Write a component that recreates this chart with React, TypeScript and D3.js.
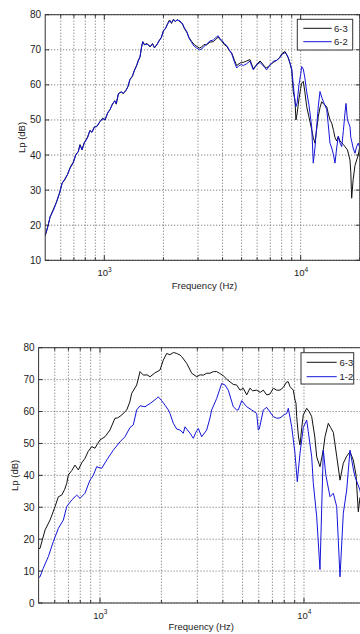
import * as d3 from 'd3';
import React from 'react';

type Pt = [number, number]; // [frequency Hz, Lp dB]

// upper panel: 6-3 vs 6-2
const top63: Pt[] = [
  [500, 17], [515, 19.5], [530, 22.4], [550, 24.5], [570, 26.5], [590, 29], [610, 32], [630, 33],
  [650, 34.5], [670, 36.5], [695, 38], [715, 40], [737, 41], [752, 43], [770, 41.5], [790, 43.5],
  [820, 45], [845, 47], [865, 46.5], [890, 48], [915, 48.2], [950, 49.5], [980, 50.5], [1010, 50],
  [1040, 52], [1070, 53], [1100, 54.5], [1130, 55.5], [1150, 54.5], [1180, 57.5], [1220, 58],
  [1250, 57.5], [1290, 58.5], [1320, 59.5], [1350, 61.5], [1390, 62.5], [1420, 64], [1460, 65.5],
  [1490, 67], [1520, 68], [1550, 71], [1570, 72.3], [1600, 71.4], [1650, 71.8], [1710, 70.8],
  [1760, 71.8], [1800, 70.5], [1850, 71.5], [1900, 72.5], [1950, 73.5], [2000, 75.5], [2050, 76],
  [2100, 77.5], [2150, 78.5], [2200, 77.5], [2250, 78.7], [2300, 78], [2350, 78.6], [2430, 78],
  [2500, 77.5], [2560, 76], [2630, 75], [2700, 73.5], [2790, 72.3], [2870, 71.5], [2950, 71],
  [3050, 70.5], [3130, 70.8], [3220, 71.5], [3320, 71.4], [3450, 72.2], [3590, 72.3], [3700, 73],
  [3800, 73.6], [3900, 72.8], [3960, 72.5], [4080, 71.5], [4200, 71], [4330, 69.8], [4460, 69],
  [4600, 67], [4720, 65.5], [4850, 66], [5000, 66.5], [5100, 66.4], [5300, 66.8], [5520, 67.2],
  [5620, 66], [5740, 64.5], [5900, 65.5], [6050, 66.2], [6210, 66.8], [6400, 66], [6550, 65.2],
  [6710, 64.8], [6900, 65.5], [7100, 66], [7300, 66.5], [7550, 67], [7800, 67.8], [8050, 69],
  [8320, 69.5], [8500, 68.5], [8650, 67.6], [8830, 66], [9000, 64.2], [9170, 58], [9350, 55.7],
  [9460, 50], [9600, 52], [9800, 56], [10000, 59], [10120, 60.5], [10310, 61], [10500, 58],
  [10730, 53.8], [11000, 51], [11150, 49.5], [11380, 47.2], [11590, 45], [11820, 43.4], [12100, 48],
  [12300, 51], [12540, 53.5], [12790, 55.2], [13100, 54.5], [13570, 53.8], [13800, 52], [14100, 50],
  [14390, 49.1], [14700, 47], [14950, 45], [15250, 44], [15540, 45.3], [15850, 44], [16180, 43.5],
  [16500, 43], [16810, 42.4], [17010, 42], [17300, 41.5], [17820, 38.6], [18000, 35], [18180, 27.7],
  [18500, 33], [18900, 37], [19280, 38.6], [19650, 40], [20000, 42.4],
];

const top62: Pt[] = [
  [500, 17], [515, 19.5], [530, 22.4], [550, 24.2], [570, 26.5], [590, 29], [610, 32], [630, 33.2],
  [650, 34.5], [670, 36.3], [695, 37.8], [715, 40], [737, 41], [752, 42.8], [770, 41.5], [790, 43.4],
  [820, 44.8], [845, 47], [865, 46.5], [890, 48], [915, 48.1], [950, 49.5], [980, 50.3], [1010, 50.2],
  [1040, 52], [1070, 53], [1100, 54.5], [1130, 55.4], [1150, 54.7], [1180, 57.5], [1220, 58],
  [1250, 57.6], [1290, 58.4], [1320, 59.6], [1350, 61.5], [1390, 62.4], [1420, 64], [1460, 65.5],
  [1490, 66.8], [1520, 68], [1550, 71], [1570, 72.3], [1600, 71.5], [1650, 71.6], [1710, 71],
  [1760, 71.6], [1800, 70.7], [1850, 71.3], [1900, 72.6], [1950, 73.4], [2000, 75.3], [2050, 76.2],
  [2100, 77.3], [2150, 78.2], [2200, 77.8], [2250, 78.5], [2300, 78.1], [2350, 78.5], [2430, 78.2],
  [2500, 77.3], [2560, 76.2], [2630, 75.2], [2700, 73.3], [2790, 72], [2870, 71], [2950, 70.5],
  [3050, 70], [3130, 70.2], [3220, 71], [3320, 71.6], [3450, 72.5], [3590, 72.8], [3700, 73.5],
  [3800, 74], [3900, 73], [3960, 72.8], [4080, 71.8], [4200, 71.2], [4330, 70], [4460, 68.8],
  [4600, 66.5], [4720, 64.8], [4850, 65.5], [5000, 65.8], [5100, 65.5], [5300, 66], [5520, 66.8],
  [5620, 65.5], [5740, 64.3], [5900, 65.3], [6050, 66], [6210, 66.4], [6400, 65.6], [6550, 65],
  [6710, 64.3], [6900, 65.2], [7100, 66.2], [7300, 66.8], [7550, 67], [7800, 67.6], [8050, 68.7],
  [8320, 69.2], [8500, 68.6], [8650, 67.8], [8830, 66.2], [9000, 64.5], [9170, 60], [9350, 55.2],
  [9460, 53.8], [9600, 55], [9800, 60], [10000, 63], [10120, 65.2], [10310, 64.5], [10500, 62],
  [10730, 58], [11000, 54.5], [11150, 52], [11380, 48], [11590, 37.7], [11820, 42], [12100, 49],
  [12300, 54], [12540, 58.1], [12790, 56.5], [13100, 55], [13570, 53], [13800, 49], [14100, 43.4],
  [14390, 42], [14700, 40], [14950, 37.7], [15250, 42], [15540, 45.3], [15850, 43.5], [16180, 42.4],
  [16500, 47], [16810, 52], [17010, 54.7], [17300, 50], [17820, 48.1], [18000, 45], [18180, 44],
  [18500, 42], [18900, 40.5], [19280, 42.5], [19650, 43.4], [20000, 42],
];

// lower panel: 6-3 vs 1-2
const bot63: Pt[] = [
  [500, 17], [508, 17.1], [538, 22.9], [569, 26], [602, 30.2], [625, 33.3], [649, 33.8], [670, 35.5],
  [687, 37.5], [699, 40.1], [727, 41.5], [754, 43.2], [783, 41.7], [815, 44], [844, 45.3], [875, 47.5],
  [911, 49], [945, 48.5], [975, 50], [1000, 51.1], [1058, 52.1], [1119, 54.2], [1184, 57.9],
  [1220, 58], [1278, 58.9], [1352, 60.5], [1400, 63], [1430, 65.7], [1513, 68.3], [1571, 72.5],
  [1631, 71.4], [1700, 71.5], [1759, 70.9], [1850, 72], [1968, 73], [2043, 76.1], [2123, 78.2],
  [2200, 77.8], [2290, 78.5], [2377, 78.2], [2467, 77.7], [2515, 77.2], [2661, 75.1], [2816, 72],
  [2979, 70.9], [3100, 71.5], [3209, 71.4], [3334, 72], [3461, 72], [3593, 72.5], [3733, 72.5],
  [3850, 72], [4022, 71.2], [4200, 70], [4338, 69.3], [4500, 68.5], [4678, 68.3], [4857, 66.7],
  [5040, 67.3], [5237, 65.2], [5436, 67.3], [5600, 66.5], [5863, 66.7], [6100, 66], [6317, 66.7],
  [6565, 65.2], [6813, 65.5], [7071, 67.3], [7348, 66.7], [7627, 66.7], [7900, 67.5], [8228, 69.3],
  [8378, 69.3], [8540, 67.8], [8863, 66.7], [9034, 63.6], [9137, 62.6], [9209, 58.4], [9400, 52],
  [9559, 49.5], [9750, 55], [9922, 59], [10309, 61], [10600, 60], [10908, 58.4], [11300, 52],
  [11543, 45.8], [11980, 42.7], [12435, 48], [12676, 52.1], [13157, 56.3], [13500, 55], [13922, 53.5],
  [14466, 46], [15016, 38.5], [15584, 43.8], [16194, 46], [16810, 47.4], [17447, 44.8], [18000, 40],
  [18459, 28.6], [18814, 33], [19400, 30], [20000, 32],
];

const bot12: Pt[] = [
  [500, 8], [508, 8.2], [527, 10.9], [558, 14.5], [590, 19.2], [625, 23.4], [661, 26], [687, 30.2],
  [727, 32.3], [769, 33.8], [798, 32.8], [844, 34.4], [893, 38.5], [927, 40], [963, 42.7], [1019, 42.2],
  [1079, 44.8], [1162, 47.9], [1253, 50.5], [1326, 52.1], [1403, 55], [1456, 55.8], [1513, 60.5],
  [1571, 61.8], [1662, 61.5], [1759, 62.5], [1896, 64.1], [1931, 64.6], [2000, 63.5], [2083, 62],
  [2162, 60.5], [2203, 59.4], [2288, 56.3], [2377, 54.5], [2467, 54.2], [2561, 53.2], [2610, 55.2],
  [2762, 53.2], [2867, 51.6], [2950, 53.5], [3033, 54.7], [3151, 52.1], [3334, 54.2], [3461, 58],
  [3528, 60.5], [3733, 64.1], [3950, 68.8], [4100, 68.3], [4255, 66.7], [4502, 61.5], [4678, 60.5],
  [4764, 60.5], [4950, 63.4], [5237, 61.5], [5541, 60.5], [5863, 59.4], [5970, 54.2], [6038, 54.5],
  [6317, 60.5], [6565, 61.3], [7071, 58.4], [7348, 57.9], [7627, 58], [8000, 59], [8228, 59.4],
  [8378, 61], [8705, 55.2], [9034, 46.9], [9273, 38], [9559, 46.9], [9922, 55], [10309, 57.3],
  [10497, 53.7], [10908, 45.8], [11109, 37.5], [11543, 27], [11980, 10.5], [12435, 47.9], [12800, 40],
  [13413, 33.3], [13922, 34.4], [14466, 30.2], [15016, 8.2], [15584, 28.1], [16194, 35.4],
  [16810, 47.9], [17447, 42], [17783, 39.6], [18814, 35.4], [19400, 30], [20000, 28],
];

const xMajor = [1000, 10000];
const xMajorExp = ['3', '4'];
const xMinor = [600, 700, 800, 900, 2000, 3000, 4000, 5000, 6000, 7000, 8000, 9000, 20000];
const yTicksTop = [10, 20, 30, 40, 50, 60, 70, 80];
const yTicksBot = [0, 10, 20, 30, 40, 50, 60, 70, 80];

const font = "'Liberation Sans', Arial, sans-serif";
const gridColor = '#666';
const axisColor = '#333';
const blue = '#1515d8';

interface Series {
  name: string;
  data: Pt[];
  color: string;
}

interface PanelProps {
  id: string;
  left: number;
  right: number;
  top: number;
  bottom: number;
  yDomain: [number, number];
  yTicks: number[];
  series: Series[];
  ylabelX: number;
  tickLabelY: number;
  xlabelY: number;
  legend: { x: number; y: number; w: number; h: number; lx0: number; lx1: number; tx: number; rows: number[] };
}

const Panel: React.FC<PanelProps> = (p) => {
  const x = d3.scaleLog().domain([500, 20000]).range([p.left, p.right]);
  const y = d3.scaleLinear().domain(p.yDomain).range([p.bottom, p.top]);
  const line = d3
    .line<Pt>()
    .x((d) => x(d[0]))
    .y((d) => y(d[1]));
  const clipId = `clip-${p.id}`;
  return (
    <g>
      <defs>
        <clipPath id={clipId}>
          <rect x={p.left} y={p.top} width={p.right - p.left} height={p.bottom - p.top} />
        </clipPath>
      </defs>
      {/* grid */}
      {p.yTicks.map((t) => (
        <line key={'gy' + t} x1={p.left} x2={p.right} y1={y(t)} y2={y(t)}
          stroke={gridColor} strokeWidth={1} strokeDasharray="1 2" />
      ))}
      {[...xMajor, ...xMinor].map((t) => (
        <line key={'gx' + t} x1={x(t)} x2={x(t)} y1={p.top} y2={p.bottom}
          stroke={gridColor} strokeWidth={1} strokeDasharray="1 2" />
      ))}
      {/* curves */}
      <g clipPath={`url(#${clipId})`}>
        {p.series.map((s) => (
          <path key={s.name} d={line(s.data) || ''} fill="none" stroke={s.color} strokeWidth={1} />
        ))}
      </g>
      {/* box */}
      <rect x={p.left} y={p.top} width={p.right - p.left} height={p.bottom - p.top}
        fill="none" stroke={axisColor} strokeWidth={1} />
      {/* ticks (inward) */}
      {p.yTicks.map((t) => (
        <g key={'ty' + t}>
          <line x1={p.left} x2={p.left + 4} y1={y(t)} y2={y(t)} stroke={axisColor} />
          <line x1={p.right} x2={p.right - 4} y1={y(t)} y2={y(t)} stroke={axisColor} />
          <text x={p.left - 4} y={y(t)} dy="0.35em" textAnchor="end" fontSize={10}
            fontFamily={font} fill="#222">{t}</text>
        </g>
      ))}
      {xMajor.map((t) => (
        <g key={'tx' + t}>
          <line x1={x(t)} x2={x(t)} y1={p.bottom} y2={p.bottom - 5} stroke={axisColor} />
          <line x1={x(t)} x2={x(t)} y1={p.top} y2={p.top + 5} stroke={axisColor} />
        </g>
      ))}
      {xMinor.map((t) => (
        <g key={'tm' + t}>
          <line x1={x(t)} x2={x(t)} y1={p.bottom} y2={p.bottom - 3} stroke={axisColor} />
          <line x1={x(t)} x2={x(t)} y1={p.top} y2={p.top + 3} stroke={axisColor} />
        </g>
      ))}
      {xMajor.map((t, i) => (
        <text key={'lx' + t} x={x(t) - 6.8} y={p.tickLabelY} fontSize={9.5} fontFamily={font} fill="#222">
          10<tspan dy={-4.5} fontSize={6.5}>{xMajorExp[i]}</tspan>
        </text>
      ))}
      <text x={(p.left + Math.min(p.right, 360)) / 2 + 2} y={p.xlabelY} textAnchor="middle"
        fontSize={9.5} fontFamily={font} fill="#222">Frequency (Hz)</text>
      <text transform={`translate(${p.ylabelX},${(p.top + p.bottom) / 2}) rotate(-90)`}
        textAnchor="middle" dy="0.35em" fontSize={9.5} fontFamily={font} fill="#222">Lp (dB)</text>
      {/* legend */}
      <rect x={p.legend.x} y={p.legend.y} width={p.legend.w} height={p.legend.h}
        fill="#fff" stroke={axisColor} strokeWidth={1} />
      {p.series.map((s, i) => (
        <g key={'lg' + s.name}>
          <line x1={p.legend.lx0} x2={p.legend.lx1} y1={p.legend.rows[i]} y2={p.legend.rows[i]}
            stroke={s.color} strokeWidth={1} />
          <text x={p.legend.tx} y={p.legend.rows[i]} dy="0.35em" fontSize={9.5}
            fontFamily={font} fill="#222">{s.name}</text>
        </g>
      ))}
    </g>
  );
};

const App: React.FC = () => (
  <svg width={360} height={634} viewBox="0 0 360 634"
    style={{ position: 'absolute', left: 0, top: 0, background: '#fff' }}>
    <rect width={360} height={634} fill="#fff" />
    <Panel
      id="top"
      left={45.2}
      right={359.8}
      top={14.7}
      bottom={260.3}
      yDomain={[10, 80]}
      yTicks={yTicksTop}
      series={[
        { name: '6-3', data: top63, color: '#111' },
        { name: '6-2', data: top62, color: blue },
      ]}
      ylabelX={21.5}
      tickLabelY={276}
      xlabelY={288.5}
      legend={{ x: 297.3, y: 19.3, w: 55.4, h: 30.7, lx0: 303.3, lx1: 331.7, tx: 334, rows: [28.3, 41.7] }}
    />
    <Panel
      id="bot"
      left={38.6}
      right={365.4}
      top={347.7}
      bottom={603}
      yDomain={[0, 80]}
      yTicks={yTicksBot}
      series={[
        { name: '6-3', data: bot63, color: '#111' },
        { name: '1-2', data: bot12, color: blue },
      ]}
      ylabelX={15}
      tickLabelY={618.5}
      xlabelY={630}
      legend={{ x: 301, y: 352.7, w: 52.7, h: 31.3, lx0: 306.7, lx1: 336.7, tx: 339.5, rows: [362.3, 376.7] }}
    />
  </svg>
);

export default App;
